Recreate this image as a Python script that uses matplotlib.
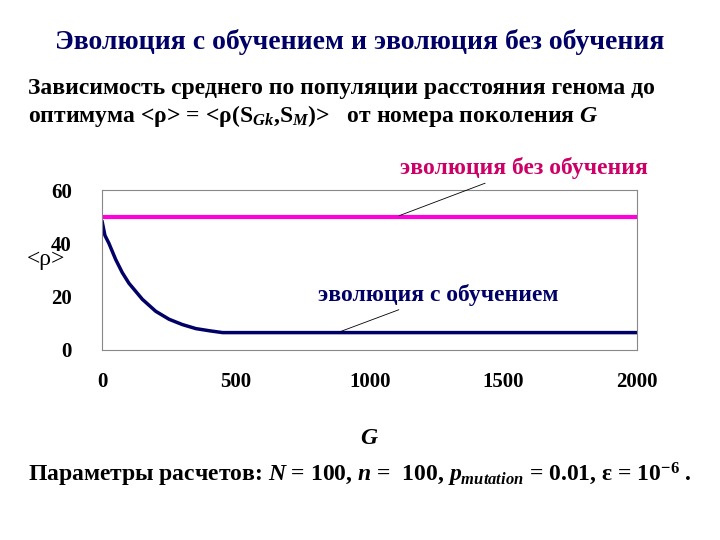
import matplotlib
matplotlib.use('Agg')
import matplotlib.pyplot as plt

G_learn = [0, 10, 25, 50, 75, 100, 150, 200, 250, 300, 350, 400, 450, 2000]
rho_learn = [48, 43, 40, 34, 29, 25, 19, 14.5, 11.5, 9.5, 8.0, 7.2, 6.5, 6.5]
G_nolearn = [0, 2000]
rho_nolearn = [50, 50]
xticks = [0, 500, 1000, 1500, 2000]
yticks = [0, 20, 40, 60]

plt.rcParams['font.family'] = ['Liberation Serif', 'DejaVu Serif']
plt.rcParams['font.weight'] = 'bold'
plt.rcParams['mathtext.fontset'] = 'custom'
plt.rcParams['mathtext.rm'] = 'Liberation Serif:bold'
plt.rcParams['mathtext.it'] = 'Liberation Serif:italic:bold'
plt.rcParams['mathtext.bf'] = 'Liberation Serif:bold'

fig = plt.figure(figsize=(7.2, 5.4), dpi=100)
ax = fig.add_axes([0.142, 0.352, 0.743, 0.296])
ax.plot(G_nolearn, rho_nolearn, color='#ff00dd', lw=3)
ax.plot(G_learn, rho_learn, color='#000066', lw=2.5)
ax.set_xlim(0, 2000)
ax.set_ylim(0, 60)
ax.set_xticks(xticks)
ax.set_yticks(yticks)
ax.tick_params(length=0, labelsize=15, pad=16)
ax.tick_params(axis='y', pad=22)
for s in ax.spines.values():
    s.set_color('#888888')
ax.set_ylabel('<ρ>', rotation=0, fontsize=17, fontweight='normal')
ax.yaxis.set_label_coords(-0.105, 0.5)
ax.set_xlabel('$G$', fontsize=17, labelpad=26)

ax.annotate('эволюция без обучения', xy=(1100, 50), xytext=(1114, 64),
            fontsize=17, color='#cc0066', ha='left', va='bottom',
            arrowprops=dict(arrowstyle='-', color='black', lw=0.6), annotation_clip=False)
ax.annotate('эволюция с обучением', xy=(880, 6.5), xytext=(807, 16.5),
            fontsize=17, color='#000066', ha='left', va='bottom',
            arrowprops=dict(arrowstyle='-', color='black', lw=0.6), annotation_clip=False)

fig.text(0.5, 0.922, 'Эволюция с обучением и эволюция без обучения', ha='center', va='center',
         fontsize=20, color='#000066')
fig.text(0.039, 0.836, 'Зависимость среднего по популяции расстояния генома до', ha='left', va='center', fontsize=17)
fig.text(0.039, 0.786, r'оптимума <ρ> = <ρ(S$_{Gk}$,S$_{M}$)>   от номера поколения $G$', ha='left', va='center', fontsize=17)
fig.text(0.5, 0.12, r'Параметры расчетов: $N$ = 100, $n$ =  100, $p_{mutation}$ = 0.01, ε = 10$^{-6}$ .',
         ha='center', va='center', fontsize=17)
fig.savefig('out.png', dpi=100)
